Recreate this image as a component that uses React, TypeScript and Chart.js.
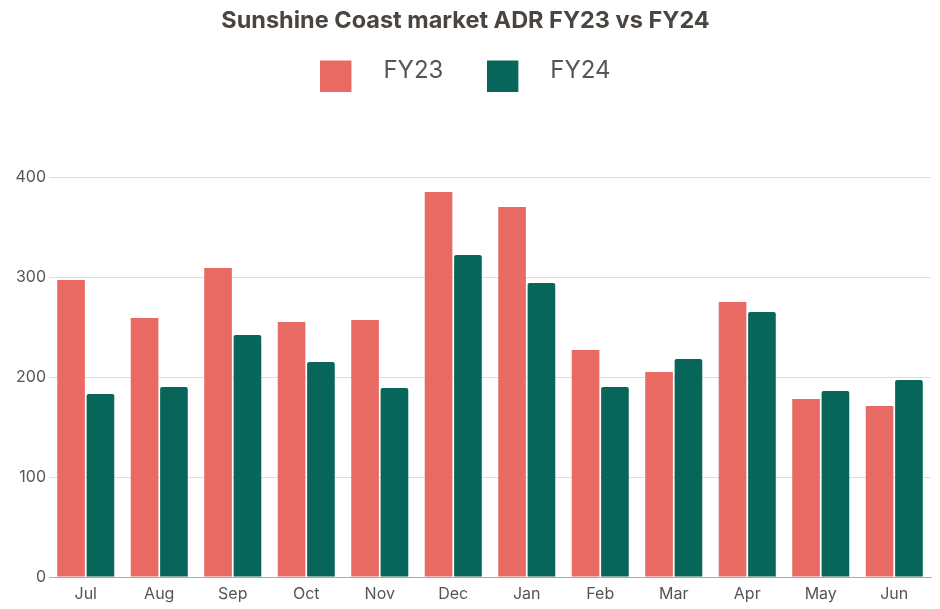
import React, { useEffect, useRef } from 'react';
import Chart from 'chart.js/auto';

const months = ['Jul', 'Aug', 'Sep', 'Oct', 'Nov', 'Dec', 'Jan', 'Feb', 'Mar', 'Apr', 'May', 'Jun'];
const fy23Adr = [297, 259, 309, 255, 257, 385, 370, 227, 205, 275, 178, 171];
const fy24Adr = [183, 190, 242, 215, 189, 322, 294, 190, 218, 265, 186, 197];
const seriesNames = ['FY23', 'FY24'];
const seriesColors = ['#E96A63', '#07655A'];
const yMax = 400;
const yStep = 100;

const FONT = 'Inter, "Noto Sans", sans-serif';

// legend swatch: square on the left of a wider transparent strip,
// so the label text sits further from the box than chart.js would put it
function makeSwatch(color: string): HTMLCanvasElement {
  const c = document.createElement('canvas');
  c.width = 51;
  c.height = 41;
  const g = c.getContext('2d');
  if (g) {
    g.fillStyle = color;
    g.fillRect(0, 10, 31, 31);
  }
  return c;
}

const AdrChart: React.FC = () => {
  const canvasRef = useRef<HTMLCanvasElement>(null);

  useEffect(() => {
    if (!canvasRef.current) return;
    const swatches = seriesColors.map(makeSwatch);

    const chart = new Chart(canvasRef.current, {
      type: 'bar',
      data: {
        labels: months,
        datasets: [
          {
            label: seriesNames[0],
            data: fy23Adr,
            backgroundColor: seriesColors[0],
            categoryPercentage: 0.8,
            barPercentage: 0.94,
          },
          {
            label: seriesNames[1],
            data: fy24Adr,
            backgroundColor: seriesColors[1],
            borderRadius: 2,
            categoryPercentage: 0.8,
            barPercentage: 0.94,
          },
        ],
      },
      options: {
        responsive: true,
        maintainAspectRatio: false,
        animation: false,
        layout: { padding: { left: 0, right: 9, top: 0, bottom: 4 } },
        plugins: {
          title: {
            display: true,
            text: 'Sunshine Coast market ADR FY23 vs FY24',
            color: '#4B4540',
            font: { family: FONT, size: 23.5, weight: 'bold' },
            padding: { top: 7, bottom: -20.2 },
          },
          legend: {
            display: true,
            position: 'top',
            labels: {
              usePointStyle: true,
              pointStyleWidth: 51,
              padding: 44,
              color: '#555555',
              font: { family: FONT, size: 24 },
              generateLabels: (c) =>
                Chart.defaults.plugins.legend.labels
                  .generateLabels(c)
                  .map((item, i) => ({ ...item, pointStyle: swatches[i] })),
            },
          },
          // empty spacer between legend and plot
          subtitle: {
            display: true,
            text: '',
            weight: 500,
            font: { size: 12, lineHeight: 1 },
            padding: { top: 72, bottom: 0 },
          },
          tooltip: { enabled: false },
        },
        scales: {
          x: {
            grid: { display: false, drawTicks: false },
            border: { color: '#ababab' },
            ticks: { color: '#555555', padding: 8, font: { family: FONT, size: 16 } },
            afterFit: (scale) => {
              scale.height = 28;
            },
          },
          y: {
            min: 0,
            max: yMax,
            grid: { color: '#dddddd', drawTicks: false },
            border: { display: false },
            ticks: { stepSize: yStep, color: '#555555', padding: 3, font: { family: FONT, size: 16 } },
            afterFit: (scale) => {
              scale.width = 49;
            },
          },
        },
      },
    });

    return () => {
      chart.destroy();
    };
  }, []);

  return (
    <div style={{ position: 'absolute', left: 0, top: 0, width: 940, height: 609, background: '#ffffff' }}>
      <canvas ref={canvasRef} />
    </div>
  );
};

export default function App() {
  return <AdrChart />;
}
